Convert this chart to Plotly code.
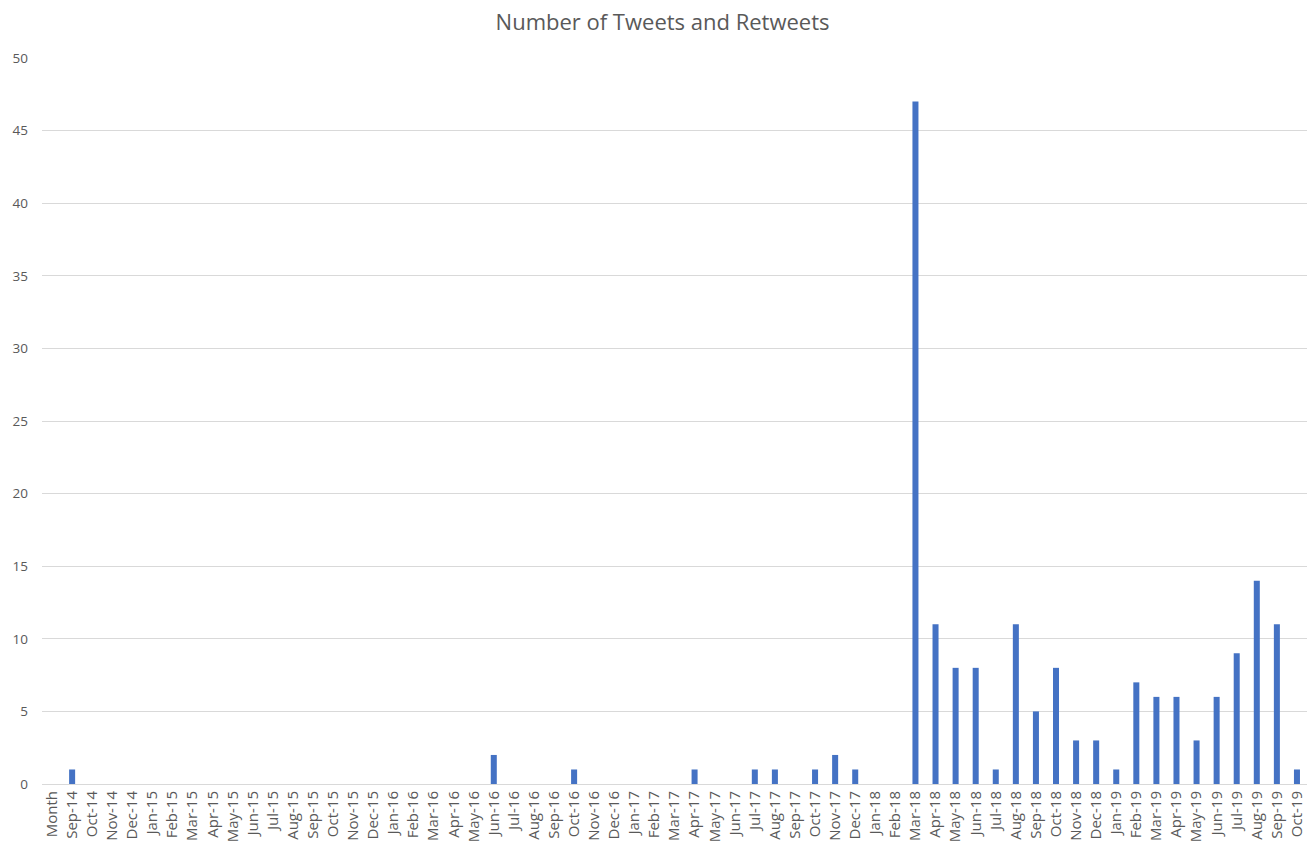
import plotly.graph_objects as go

months = ["Month", "Sep-14", "Oct-14", "Nov-14", "Dec-14", "Jan-15", "Feb-15", "Mar-15",
          "Apr-15", "May-15", "Jun-15", "Jul-15", "Aug-15", "Sep-15", "Oct-15", "Nov-15",
          "Dec-15", "Jan-16", "Feb-16", "Mar-16", "Apr-16", "May-16", "Jun-16", "Jul-16",
          "Aug-16", "Sep-16", "Oct-16", "Nov-16", "Dec-16", "Jan-17", "Feb-17", "Mar-17",
          "Apr-17", "May-17", "Jun-17", "Jul-17", "Aug-17", "Sep-17", "Oct-17", "Nov-17",
          "Dec-17", "Jan-18", "Feb-18", "Mar-18", "Apr-18", "May-18", "Jun-18", "Jul-18",
          "Aug-18", "Sep-18", "Oct-18", "Nov-18", "Dec-18", "Jan-19", "Feb-19", "Mar-19",
          "Apr-19", "May-19", "Jun-19", "Jul-19", "Aug-19", "Sep-19", "Oct-19"]

counts = [0, 1, 0, 0, 0, 0, 0, 0,
          0, 0, 0, 0, 0, 0, 0, 0,
          0, 0, 0, 0, 0, 0, 2, 0,
          0, 0, 1, 0, 0, 0, 0, 0,
          1, 0, 0, 1, 1, 0, 1, 2,
          1, 0, 0, 47, 11, 8, 8, 1,
          11, 5, 8, 3, 3, 1, 7, 6,
          6, 3, 6, 9, 14, 11, 1]

y_ticks = [0, 5, 10, 15, 20, 25, 30, 35, 40, 45, 50]

font_family = "Open Sans, Noto Sans, sans-serif"
text_grey = "#595959"

fig = go.Figure(
    go.Bar(x=months, y=counts, marker_color="#4472C4", marker_line_width=0)
)

fig.update_layout(
    width=1312,
    height=842,
    paper_bgcolor="white",
    plot_bgcolor="white",
    margin=dict(l=42, r=5, t=58, b=58, autoexpand=False),
    bargap=0.7,
    showlegend=False,
    title=dict(
        text="Number of Tweets and Retweets",
        x=0.505,
        xanchor="center",
        y=0.974,
        yanchor="middle",
        font=dict(family=font_family, size=22, color=text_grey),
    ),
    font=dict(family=font_family, color=text_grey),
)

fig.update_xaxes(
    type="category",
    range=[-0.5, len(months) - 0.5],
    tickangle=-90,
    tickfont=dict(size=15, color=text_grey),
    showgrid=False,
    showline=True,
    linecolor="#D9D9D9",
    ticks="",
    automargin=False,
)

fig.update_yaxes(
    range=[0, 50],
    tickvals=y_ticks,
    tickfont=dict(size=13.5, color=text_grey),
    showgrid=True,
    gridcolor="#D9D9D9",
    gridwidth=1,
    zeroline=False,
    showline=False,
    ticks="",
    ticklabelstandoff=13,
    automargin=False,
)

fig.write_html("out.html")
